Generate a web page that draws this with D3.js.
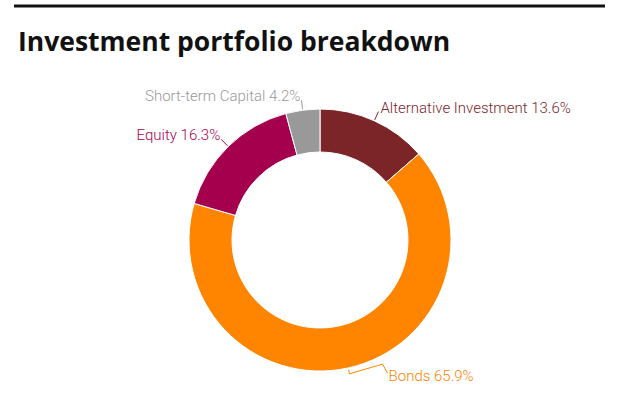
<!DOCTYPE html>
<html>
<head>
<meta charset="utf-8">
<script src="https://cdn.jsdelivr.net/npm/d3@7"></script>
<style>
  body { margin: 0; background: #fff; }
  svg { display: block; }
</style>
</head>
<body>
<script>
const categories = ["Alternative Investment", "Bonds", "Equity", "Short-term Capital"];
const shares = [13.6, 65.9, 16.3, 4.2];
const colors = ["#7b2529", "#ff8400", "#a4004e", "#999999"];
const title = "Investment portfolio breakdown";

const width = 641, height = 397;
const cx = 320, cy = 240, outerR = 131, innerR = 88;

const svg = d3.select("body").append("svg")
  .attr("width", width)
  .attr("height", height);

// rule above title
svg.append("line")
  .attr("x1", 14).attr("x2", 605)
  .attr("y1", 6).attr("y2", 6)
  .attr("stroke", "#111")
  .attr("stroke-width", 3);

svg.append("text")
  .attr("x", 18)
  .attr("y", 51)
  .text(title)
  .style("font-family", "'Open Sans', sans-serif")
  .style("font-weight", "bold")
  .style("font-size", "26.5px")
  .style("fill", "#111");

const data = categories.map((c, i) => ({ name: c, value: shares[i], color: colors[i] }));

const pie = d3.pie().sort(null).value(d => d.value);
const arc = d3.arc().innerRadius(innerR).outerRadius(outerR);
const arcs = pie(data);

const g = svg.append("g").attr("transform", "translate(" + cx + "," + cy + ")");

g.selectAll("path.slice")
  .data(arcs)
  .enter()
  .append("path")
  .attr("class", "slice")
  .attr("d", arc)
  .attr("fill", d => d.data.color)
  .attr("stroke", "#fff")
  .attr("stroke-width", 1);

// point on a circle of radius r at angle a (0 = top, clockwise)
function polar(r, a) {
  return [r * Math.sin(a), -r * Math.cos(a)];
}

const line = d3.line();

arcs.forEach(d => {
  const mid = (d.startAngle + d.endAngle) / 2;
  const right = Math.sin(mid) > 0;
  let pts, tx, ty;
  if (mid > Math.PI / 2 && mid < Math.PI * 1.5) {
    // bottom labels: bracket hugging the arc, then out to the label
    const a2 = mid - 0.25;
    const p0 = polar(outerR + 2, mid);
    const p1 = polar(outerR + 6, mid);
    const p2 = polar(outerR + 8, a2);
    const p3 = [p2[0] + 5, p2[1] + 9];
    pts = [p0, p1, p2, p3];
    tx = p3[0] + 1;
    ty = p3[1] + 8;
  } else {
    const p0 = polar(outerR + 1, mid);
    const p1 = polar(outerR + 10, mid);
    pts = [p0, p1];
    tx = p1[0] + (right ? 2 : -1);
    ty = p1[1] + 1;
  }
  g.append("path")
    .attr("d", line(pts))
    .attr("fill", "none")
    .attr("stroke", d.data.color)
    .attr("stroke-width", 1);
  g.append("text")
    .attr("x", tx)
    .attr("y", ty)
    .attr("text-anchor", right ? "start" : "end")
    .text(d.data.name + " " + d.data.value.toFixed(1) + "%")
    .style("font-family", "Roboto, sans-serif")
    .style("font-weight", 300)
    .style("font-size", "15px")
    .style("fill", d.data.color);
});
</script>
</body>
</html>
